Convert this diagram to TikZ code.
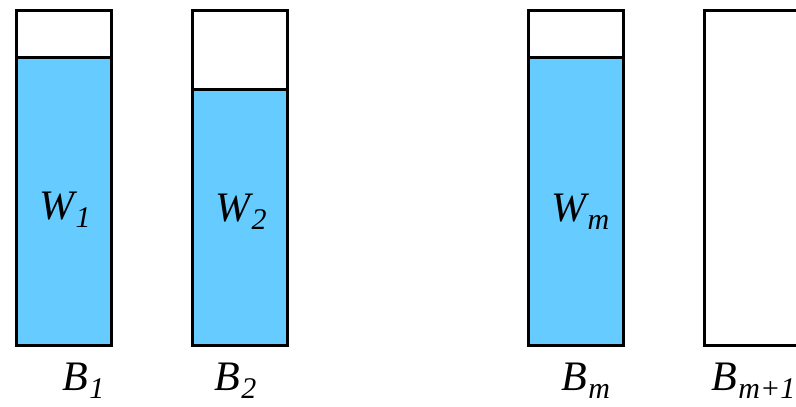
\documentclass[tikz,border=0pt]{standalone}
\usepackage{fontspec}
\setmainfont{Liberation Serif}
\definecolor{binblue}{HTML}{66CCFF}
\newcommand{\binlbl}[2]{{\itshape #1\kern1.5pt\raisebox{-8pt}{\fontsize{30}{32}\selectfont #2}}}
\begin{document}
\begin{tikzpicture}[x=1pt,y=1pt,line join=miter]
	\tikzset{bin/.style={draw=black,line width=3pt},
		every node/.style={inner sep=0pt,font=\fontsize{42}{50}\selectfont}}
	\useasboundingbox (0,0) rectangle (796,407);
	% filled parts
	\foreach \x/\h in {16/349, 192/317, 528/349}
	\fill[binblue] (\x,61) rectangle (\x+95,\h);
	% bins
	\foreach \x/\h in {16/349, 192/317, 528/349}{
		\draw[bin] (\x,61) rectangle (\x+95,396);
		\draw[bin] (\x,\h)--(\x+95,\h);
	}
	\draw[bin] (704,61) rectangle (800,396);
	% contents
	\node[anchor=base west] (w1) at (39,187) {\binlbl{W}{1}};
	\node[anchor=base west] (w2) at (215,185) {\binlbl{W}{2}};
	\node[anchor=base west] (wm) at (551,185) {\binlbl{W}{m}};
	% bin names
	\node[anchor=base west] (b1) at (62,16) {\binlbl{B}{1}};
	\node[anchor=base west] (b2) at (214,16) {\binlbl{B}{2}};
	\node[anchor=base west] (bm) at (561,16) {\binlbl{B}{m}};
	\node[anchor=base west] (bm1) at (711,16) {\binlbl{B}{m+1}};
\end{tikzpicture}
\end{document}
